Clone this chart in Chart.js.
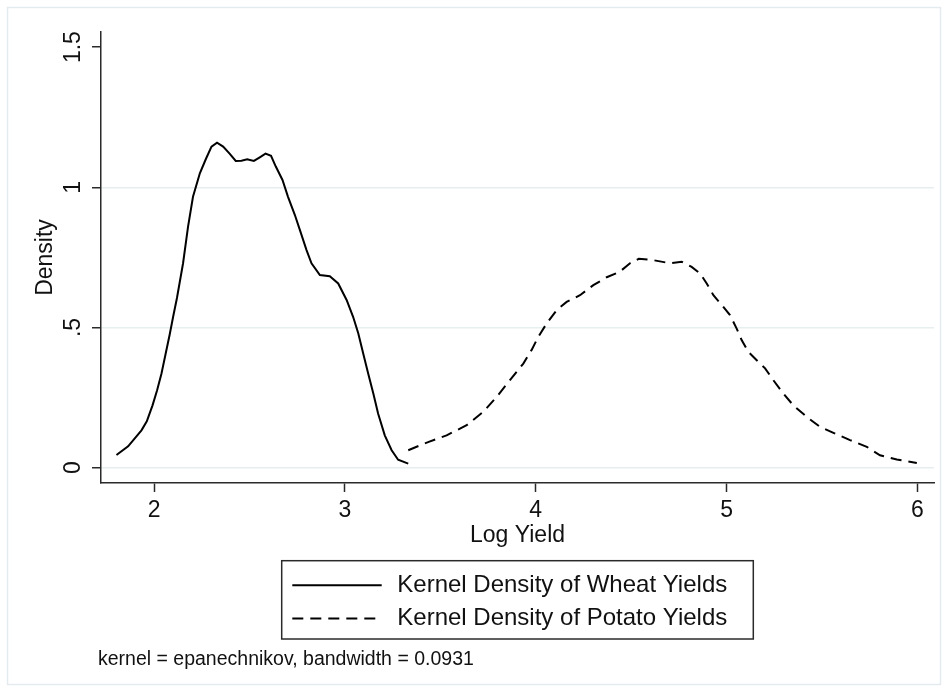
<!DOCTYPE html>
<html><head><meta charset="utf-8">
<script src="https://cdn.jsdelivr.net/npm/chart.js@4"></script>
<style>html,body{margin:0;padding:0;background:#fff}canvas{display:block}</style>
</head><body>
<canvas id="c" width="948" height="692"></canvas>
<script>
// ---- data ----
const wheatX = [1.803,1.864,1.934,1.962,1.992,2.016,2.039,2.061,2.082,2.100,2.120,2.152,2.178,2.204,2.240,2.271,2.301,2.330,2.362,2.397,2.428,2.458,2.488,2.523,2.554,2.584,2.613,2.638,2.673,2.702,2.738,2.764,2.799,2.825,2.869,2.921,2.965,3.009,3.043,3.070,3.096,3.122,3.149,3.174,3.209,3.245,3.279,3.332];
const wheatY = [0.045,0.076,0.133,0.165,0.222,0.276,0.336,0.407,0.475,0.538,0.605,0.729,0.859,0.966,1.050,1.100,1.145,1.159,1.145,1.119,1.094,1.095,1.100,1.094,1.107,1.120,1.112,1.074,1.026,0.966,0.901,0.848,0.776,0.729,0.687,0.683,0.657,0.598,0.538,0.479,0.407,0.336,0.264,0.193,0.115,0.062,0.028,0.014];
const potatoX = [3.332,3.436,3.533,3.638,3.725,3.795,3.865,3.935,3.978,4.013,4.057,4.110,4.162,4.232,4.302,4.372,4.441,4.494,4.540,4.616,4.703,4.765,4.817,4.861,4.896,4.931,4.975,5.018,5.053,5.079,5.114,5.158,5.202,5.245,5.298,5.350,5.420,5.490,5.560,5.647,5.735,5.804,5.892,5.997];
const potatoY = [0.062,0.091,0.115,0.151,0.199,0.252,0.312,0.371,0.419,0.466,0.514,0.562,0.591,0.615,0.651,0.679,0.699,0.729,0.745,0.740,0.729,0.734,0.716,0.693,0.657,0.615,0.580,0.544,0.496,0.455,0.413,0.383,0.354,0.312,0.264,0.222,0.181,0.145,0.124,0.098,0.074,0.044,0.029,0.016];
const seriesLabels = ['Kernel Density of Wheat Yields', 'Kernel Density of Potato Yields'];
const xTickValues = [2, 3, 4, 5, 6];
const xTickLabels = ['2', '3', '4', '5', '6'];
const yTickValues = [0, 0.5, 1, 1.5];
const yTickLabels = ['0', '.5', '1', '1.5'];
const xTitle = 'Log Yield';
const yTitle = 'Density';
const noteText = 'kernel = epanechnikov, bandwidth = 0.0931';

// ---- styling ----
const FONT = "'Liberation Sans', Arial, Helvetica, sans-serif";
const INK = '#111111';
const AXIS = '#2a2a2a';
const GRID = '#e6eef0';
Chart.defaults.font.family = FONT;
Chart.defaults.font.size = 23;
Chart.defaults.color = INK;

const pairs = (xs, ys) => xs.map((x, i) => ({x: x, y: ys[i]}));

const extras = {
  id: 'stataExtras',
  beforeDraw(chart) {
    const ctx = chart.ctx;
    ctx.save();
    ctx.fillStyle = '#ffffff';
    ctx.fillRect(0, 0, chart.width, chart.height);
    ctx.strokeStyle = '#e3ebee';
    ctx.lineWidth = 1.5;
    ctx.strokeRect(7.5, 7.5, chart.width - 15, chart.height - 15);
    ctx.restore();
  },
  afterDraw(chart) {
    const ctx = chart.ctx;
    const a = chart.chartArea;
    const cx = (a.left + a.right) / 2;
    const bw = 471.6, bh = 78.3;
    const bx = cx - bw / 2, by = 560.7;
    ctx.save();
    ctx.strokeStyle = AXIS;
    ctx.lineWidth = 1.5;
    ctx.strokeRect(bx, by, bw, bh);
    const rows = [by + 24.5, by + 57.8];
    chart.data.datasets.forEach((ds, i) => {
      const y = rows[i];
      ctx.beginPath();
      ctx.setLineDash(ds.borderDash || []);
      ctx.strokeStyle = ds.borderColor;
      ctx.lineWidth = ds.borderWidth;
      ctx.moveTo(bx + 10.6, y);
      ctx.lineTo(bx + 100, y);
      ctx.stroke();
      ctx.setLineDash([]);
      ctx.fillStyle = INK;
      ctx.font = '24px ' + FONT;
      ctx.textAlign = 'left';
      ctx.textBaseline = 'middle';
      ctx.fillText(ds.label, bx + 115.6, y);
    });
    ctx.font = '19.5px ' + FONT;
    ctx.fillStyle = INK;
    ctx.textAlign = 'left';
    ctx.textBaseline = 'middle';
    ctx.fillText(noteText, 98, 660);
    ctx.restore();
  }
};

new Chart(document.getElementById('c'), {
  type: 'line',
  data: {
    datasets: [
      {label: seriesLabels[0], data: pairs(wheatX, wheatY), borderColor: '#000', borderWidth: 2,
       pointRadius: 0, tension: 0, fill: false},
      {label: seriesLabels[1], data: pairs(potatoX, potatoY), borderColor: '#000', borderWidth: 2,
       borderDash: [11, 7], pointRadius: 0, tension: 0, fill: false}
    ]
  },
  options: {
    responsive: false,
    animation: false,
    layout: {padding: {left: 0, top: 32, right: 14, bottom: 139}},
    plugins: {legend: {display: false}, tooltip: {enabled: false}},
    scales: {
      x: {
        type: 'linear', min: 1.722, max: 6.087,
        afterBuildTicks: s => { s.ticks = xTickValues.map(v => ({value: v})); },
        afterFit: s => { s.height = 70; },
        ticks: {autoSkip: false, maxRotation: 0, padding: 5,
                callback: (v) => xTickLabels[xTickValues.indexOf(v)]},
        grid: {drawOnChartArea: false, drawTicks: true, tickLength: 9, tickColor: AXIS, tickWidth: 1.5},
        border: {display: true, color: AXIS, width: 1.5},
        title: {display: true, text: xTitle, padding: {top: 0, bottom: 4}}
      },
      y: {
        type: 'linear', min: -0.055, max: 1.554,
        afterBuildTicks: s => { s.ticks = yTickValues.map(v => ({value: v})); },
        afterFit: s => { s.width = 101; },
        ticks: {autoSkip: false, minRotation: 90, maxRotation: 90, crossAlign: 'center', padding: 2,
                callback: (v) => yTickLabels[yTickValues.indexOf(v)]},
        grid: {drawOnChartArea: true, drawTicks: true, tickLength: 9, tickColor: AXIS, tickWidth: 1.5,
               lineWidth: 1.5,
               color: c => (c.tick && c.tick.value === 1.5) ? 'rgba(0,0,0,0)' : GRID},
        border: {display: true, color: AXIS, width: 1.5},
        title: {display: true, text: yTitle, padding: {top: 32, bottom: 0}}
      }
    }
  },
  plugins: [extras]
});
</script>
</body></html>
